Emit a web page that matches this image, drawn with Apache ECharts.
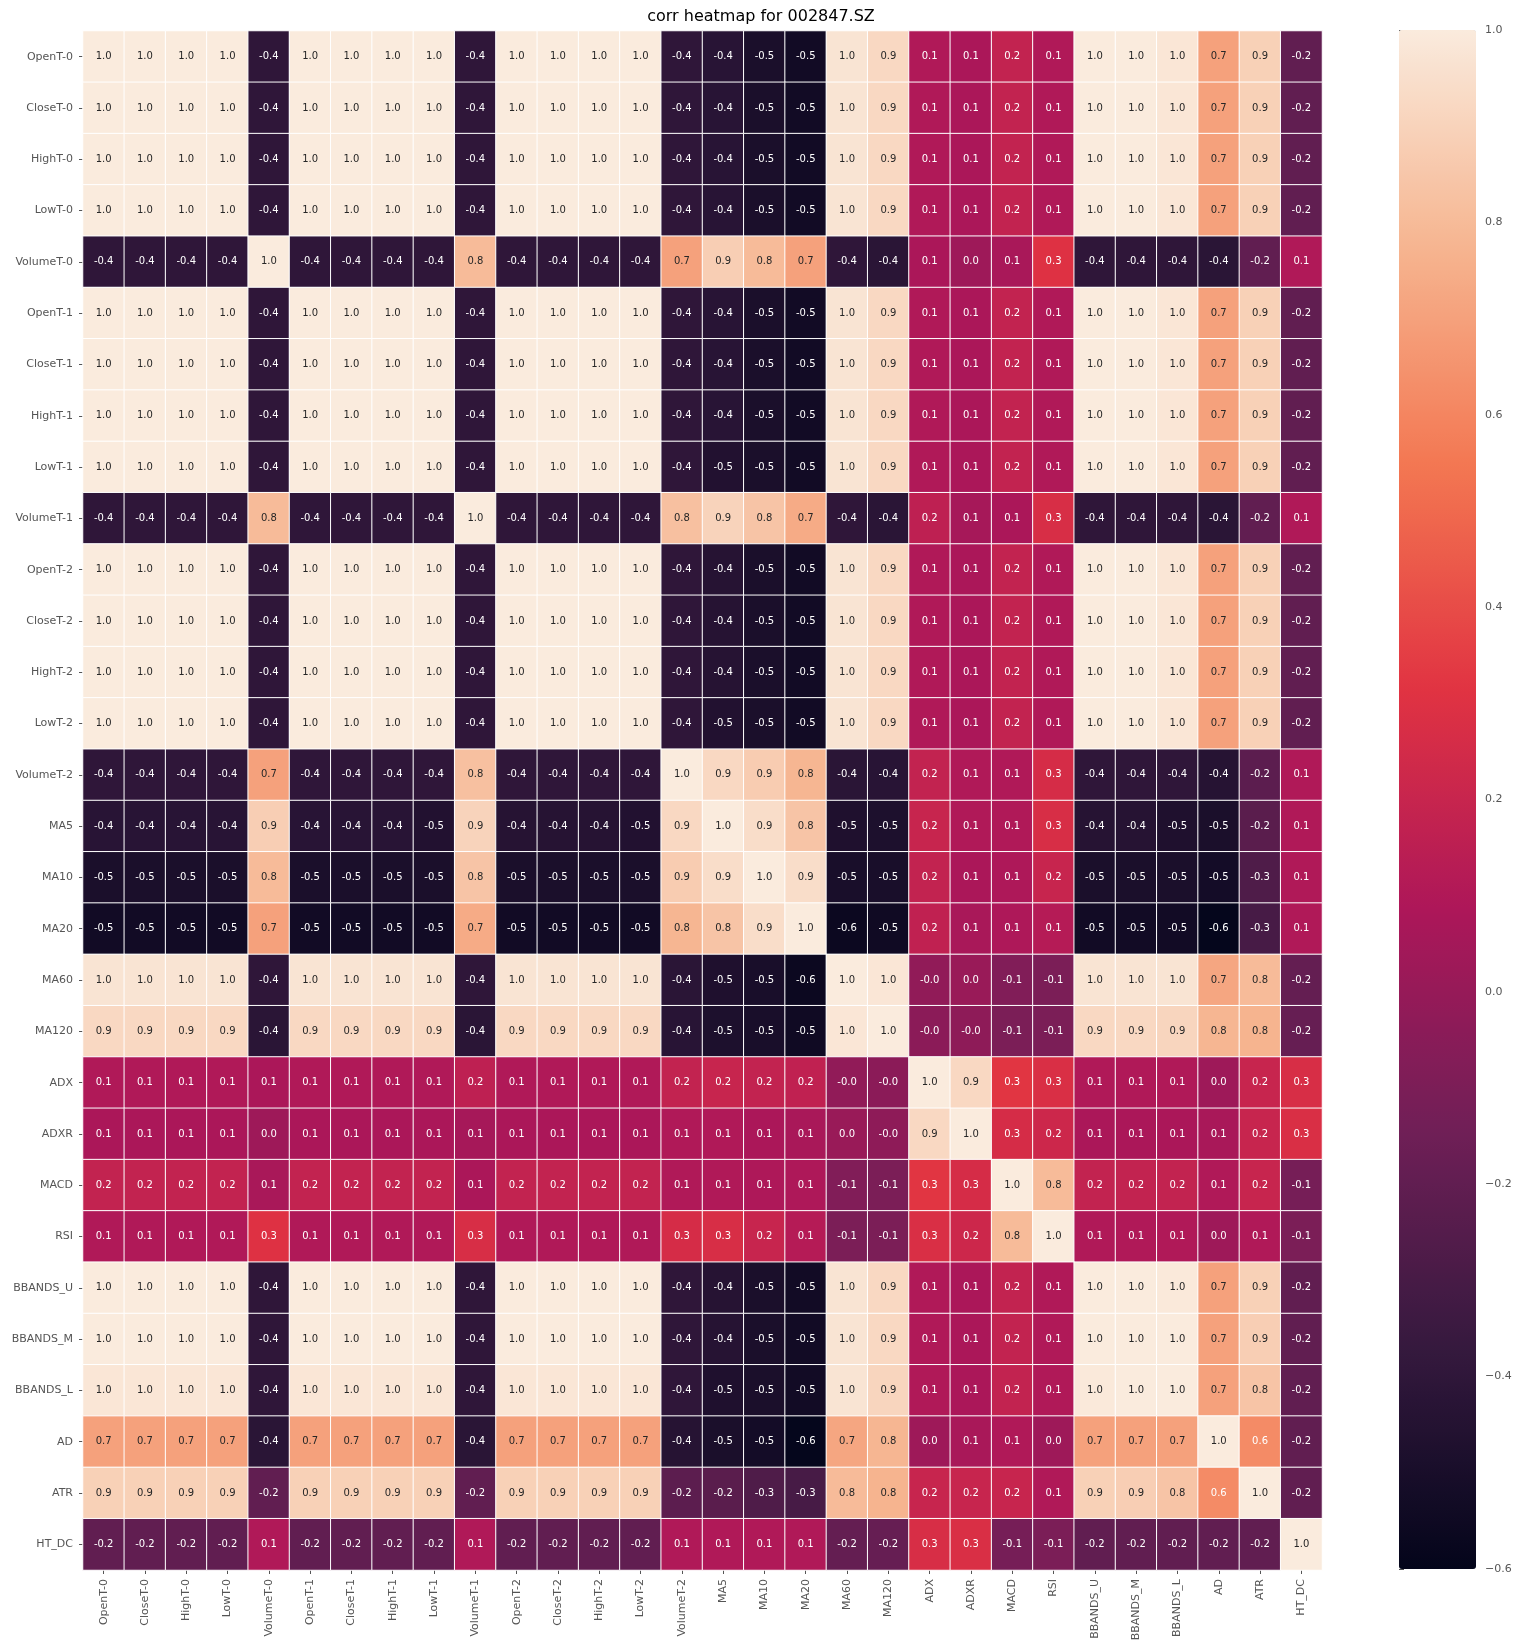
<!DOCTYPE html>
<html>
<head>
<meta charset="utf-8">
<script src="https://cdn.jsdelivr.net/npm/echarts@6/dist/echarts.min.js"></script>
<style>
  html, body { margin: 0; padding: 0; background: #ffffff; }
  #chart { width: 1522px; height: 1652px; }
</style>
</head>
<body>
<div id="chart"></div>
<script>
// ---- categories (rows and columns) ----
const categories = ['OpenT-0','CloseT-0','HighT-0','LowT-0','VolumeT-0','OpenT-1','CloseT-1','HighT-1','LowT-1','VolumeT-1','OpenT-2','CloseT-2','HighT-2','LowT-2','VolumeT-2','MA5','MA10','MA20','MA60','MA120','ADX','ADXR','MACD','RSI','BBANDS_U','BBANDS_M','BBANDS_L','AD','ATR','HT_DC'];

// ---- correlation rows ----
const rowOpenT0   = [1.00,1.00,1.00,1.00,-0.40,1.00,1.00,1.00,1.00,-0.40,1.00,1.00,1.00,1.00,-0.40,-0.43,-0.49,-0.53,0.97,0.92,0.10,0.08,0.18,0.10,1.00,1.00,0.98,0.70,0.89,-0.20];
const rowCloseT0  = [1.00,1.00,1.00,1.00,-0.40,1.00,1.00,1.00,1.00,-0.40,1.00,1.00,1.00,1.00,-0.40,-0.43,-0.49,-0.53,0.97,0.92,0.10,0.08,0.18,0.10,1.00,1.00,0.98,0.70,0.89,-0.20];
const rowHighT0   = [1.00,1.00,1.00,1.00,-0.40,1.00,1.00,1.00,1.00,-0.40,1.00,1.00,1.00,1.00,-0.40,-0.43,-0.49,-0.53,0.97,0.92,0.10,0.08,0.18,0.10,1.00,1.00,0.98,0.70,0.89,-0.20];
const rowLowT0    = [1.00,1.00,1.00,1.00,-0.40,1.00,1.00,1.00,1.00,-0.40,1.00,1.00,1.00,1.00,-0.40,-0.43,-0.49,-0.53,0.97,0.92,0.10,0.08,0.18,0.10,1.00,1.00,0.98,0.70,0.89,-0.20];
const rowVolumeT0 = [-0.40,-0.40,-0.40,-0.40,1.00,-0.40,-0.40,-0.40,-0.40,0.80,-0.40,-0.40,-0.40,-0.40,0.70,0.88,0.80,0.70,-0.40,-0.42,0.08,0.03,0.07,0.30,-0.40,-0.40,-0.40,-0.42,-0.20,0.10];
const rowOpenT1   = [1.00,1.00,1.00,1.00,-0.40,1.00,1.00,1.00,1.00,-0.40,1.00,1.00,1.00,1.00,-0.40,-0.43,-0.49,-0.53,0.97,0.92,0.10,0.08,0.18,0.10,1.00,1.00,0.98,0.70,0.89,-0.20];
const rowCloseT1  = [1.00,1.00,1.00,1.00,-0.40,1.00,1.00,1.00,1.00,-0.40,1.00,1.00,1.00,1.00,-0.40,-0.43,-0.49,-0.53,0.97,0.92,0.10,0.08,0.18,0.10,1.00,1.00,0.98,0.70,0.89,-0.20];
const rowHighT1   = [1.00,1.00,1.00,1.00,-0.40,1.00,1.00,1.00,1.00,-0.40,1.00,1.00,1.00,1.00,-0.40,-0.43,-0.49,-0.53,0.97,0.92,0.10,0.08,0.18,0.10,1.00,1.00,0.98,0.70,0.89,-0.20];
const rowLowT1    = [1.00,1.00,1.00,1.00,-0.40,1.00,1.00,1.00,1.00,-0.40,1.00,1.00,1.00,1.00,-0.40,-0.46,-0.49,-0.53,0.97,0.92,0.10,0.08,0.18,0.10,1.00,1.00,0.98,0.70,0.89,-0.20];
const rowVolumeT1 = [-0.40,-0.40,-0.40,-0.40,0.80,-0.40,-0.40,-0.40,-0.40,1.00,-0.40,-0.40,-0.40,-0.40,0.82,0.90,0.84,0.74,-0.40,-0.42,0.16,0.06,0.08,0.27,-0.40,-0.40,-0.40,-0.42,-0.20,0.10];
const rowOpenT2   = [1.00,1.00,1.00,1.00,-0.40,1.00,1.00,1.00,1.00,-0.40,1.00,1.00,1.00,1.00,-0.40,-0.44,-0.49,-0.53,0.97,0.92,0.10,0.08,0.18,0.10,1.00,1.00,0.98,0.70,0.89,-0.20];
const rowCloseT2  = [1.00,1.00,1.00,1.00,-0.40,1.00,1.00,1.00,1.00,-0.40,1.00,1.00,1.00,1.00,-0.40,-0.44,-0.49,-0.53,0.97,0.92,0.10,0.08,0.18,0.10,1.00,1.00,0.98,0.70,0.89,-0.20];
const rowHighT2   = [1.00,1.00,1.00,1.00,-0.40,1.00,1.00,1.00,1.00,-0.40,1.00,1.00,1.00,1.00,-0.40,-0.44,-0.49,-0.53,0.97,0.92,0.10,0.08,0.18,0.10,1.00,1.00,0.98,0.70,0.89,-0.20];
const rowLowT2    = [1.00,1.00,1.00,1.00,-0.40,1.00,1.00,1.00,1.00,-0.40,1.00,1.00,1.00,1.00,-0.40,-0.46,-0.49,-0.53,0.97,0.92,0.10,0.08,0.18,0.10,1.00,1.00,0.98,0.70,0.89,-0.20];
const rowVolumeT2 = [-0.40,-0.40,-0.40,-0.40,0.70,-0.40,-0.40,-0.40,-0.40,0.82,-0.40,-0.40,-0.40,-0.40,1.00,0.92,0.87,0.78,-0.42,-0.43,0.18,0.10,0.10,0.26,-0.40,-0.40,-0.40,-0.44,-0.22,0.10];
const rowMA5      = [-0.43,-0.43,-0.43,-0.43,0.88,-0.43,-0.43,-0.43,-0.46,0.90,-0.44,-0.44,-0.44,-0.46,0.92,1.00,0.94,0.84,-0.47,-0.48,0.20,0.10,0.10,0.27,-0.44,-0.44,-0.47,-0.49,-0.23,0.10];
const rowMA10     = [-0.49,-0.49,-0.49,-0.49,0.80,-0.49,-0.49,-0.49,-0.49,0.84,-0.49,-0.49,-0.49,-0.49,0.87,0.94,1.00,0.94,-0.50,-0.50,0.18,0.08,0.09,0.20,-0.49,-0.49,-0.49,-0.52,-0.27,0.10];
const rowMA20     = [-0.53,-0.53,-0.53,-0.53,0.70,-0.53,-0.53,-0.53,-0.53,0.74,-0.53,-0.53,-0.53,-0.53,0.78,0.84,0.94,1.00,-0.56,-0.54,0.17,0.07,0.09,0.12,-0.53,-0.53,-0.53,-0.59,-0.30,0.10];
const rowMA60     = [0.97,0.97,0.97,0.97,-0.40,0.97,0.97,0.97,0.97,-0.40,0.97,0.97,0.97,0.97,-0.42,-0.47,-0.50,-0.56,1.00,0.98,-0.02,0.01,-0.08,-0.10,0.97,0.97,0.97,0.72,0.80,-0.19];
const rowMA120    = [0.92,0.92,0.92,0.92,-0.42,0.92,0.92,0.92,0.92,-0.42,0.92,0.92,0.92,0.92,-0.43,-0.48,-0.50,-0.54,0.98,1.00,-0.04,-0.03,-0.10,-0.10,0.92,0.92,0.91,0.78,0.77,-0.18];
const rowADX      = [0.10,0.10,0.10,0.10,0.08,0.10,0.10,0.10,0.10,0.16,0.10,0.10,0.10,0.10,0.18,0.20,0.18,0.17,-0.02,-0.04,1.00,0.92,0.32,0.28,0.10,0.10,0.10,0.03,0.20,0.27];
const rowADXR     = [0.08,0.08,0.08,0.08,0.03,0.08,0.08,0.08,0.08,0.06,0.08,0.08,0.08,0.08,0.10,0.10,0.08,0.07,0.01,-0.03,0.92,1.00,0.26,0.22,0.08,0.08,0.08,0.07,0.20,0.28];
const rowMACD     = [0.18,0.18,0.18,0.18,0.07,0.18,0.18,0.18,0.18,0.08,0.18,0.18,0.18,0.18,0.10,0.10,0.09,0.09,-0.08,-0.10,0.32,0.26,1.00,0.80,0.18,0.18,0.18,0.10,0.20,-0.12];
const rowRSI      = [0.10,0.10,0.10,0.10,0.30,0.10,0.10,0.10,0.10,0.27,0.10,0.10,0.10,0.10,0.26,0.27,0.20,0.12,-0.10,-0.10,0.28,0.22,0.80,1.00,0.10,0.10,0.10,0.03,0.10,-0.10];
const rowBBANDSU  = [1.00,1.00,1.00,1.00,-0.40,1.00,1.00,1.00,1.00,-0.40,1.00,1.00,1.00,1.00,-0.40,-0.44,-0.49,-0.53,0.97,0.92,0.10,0.08,0.18,0.10,1.00,1.00,0.99,0.70,0.89,-0.20];
const rowBBANDSM  = [1.00,1.00,1.00,1.00,-0.40,1.00,1.00,1.00,1.00,-0.40,1.00,1.00,1.00,1.00,-0.40,-0.44,-0.49,-0.53,0.97,0.92,0.10,0.08,0.18,0.10,1.00,1.00,1.00,0.70,0.88,-0.20];
const rowBBANDSL  = [0.98,0.98,0.98,0.98,-0.40,0.98,0.98,0.98,0.98,-0.40,0.98,0.98,0.98,0.98,-0.40,-0.47,-0.49,-0.53,0.97,0.91,0.10,0.08,0.18,0.10,0.99,1.00,1.00,0.70,0.84,-0.20];
const rowAD       = [0.70,0.70,0.70,0.70,-0.42,0.70,0.70,0.70,0.70,-0.42,0.70,0.70,0.70,0.70,-0.44,-0.49,-0.52,-0.59,0.72,0.78,0.03,0.07,0.10,0.03,0.70,0.70,0.70,1.00,0.62,-0.20];
const rowATR      = [0.89,0.89,0.89,0.89,-0.20,0.89,0.89,0.89,0.89,-0.20,0.89,0.89,0.89,0.89,-0.22,-0.23,-0.27,-0.30,0.80,0.77,0.20,0.20,0.20,0.10,0.89,0.88,0.84,0.62,1.00,-0.20];
const rowHTDC     = [-0.20,-0.20,-0.20,-0.20,0.10,-0.20,-0.20,-0.20,-0.20,0.10,-0.20,-0.20,-0.20,-0.20,0.10,0.10,0.10,0.10,-0.19,-0.18,0.27,0.28,-0.12,-0.10,-0.20,-0.20,-0.20,-0.20,-0.20,1.00];

// ---- colour bar range ----
const colorbarMin = -0.6;
const colorbarMax = 1.0;
const colorbarStep = 0.2;

const matrix = [rowOpenT0,rowCloseT0,rowHighT0,rowLowT0,rowVolumeT0,rowOpenT1,rowCloseT1,rowHighT1,rowLowT1,rowVolumeT1,rowOpenT2,rowCloseT2,rowHighT2,rowLowT2,rowVolumeT2,rowMA5,rowMA10,rowMA20,rowMA60,rowMA120,rowADX,rowADXR,rowMACD,rowRSI,rowBBANDSU,rowBBANDSM,rowBBANDSL,rowAD,rowATR,rowHTDC];

// seaborn "rocket" colormap stops
const rocket = ['#03051a','#35193e','#701f57','#ad1759','#e13342','#f37651','#f6b48f','#faebdd'];

const data = [];
matrix.forEach(function (row, i) {
  row.forEach(function (v, j) {
    data.push({ value: [j, i, v], label: { color: v > 0.66 ? '#262626' : '#ffffff' } });
  });
});

const FONT = 'DejaVu Sans';
const chart = echarts.init(document.getElementById('chart'), null, { renderer: 'canvas' });

chart.setOption({
  animation: false,
  backgroundColor: '#ffffff',
  title: {
    text: 'corr heatmap for 002847.SZ',
    left: 'center',
    top: 9,
    padding: 0,
    textStyle: { fontFamily: FONT, fontSize: 16, fontWeight: 'normal', color: '#000000' }
  },
  grid: [
    { left: 83, top: 31, width: 1239, height: 1539 },
    { left: 1399, top: 30, width: 77, height: 1539 }
  ],
  xAxis: [
    {
      type: 'category', gridIndex: 0, data: categories, position: 'bottom',
      axisLine: { show: false },
      axisTick: { show: true, alignWithLabel: true, length: 4, lineStyle: { color: '#555555' } },
      axisLabel: { rotate: 90, interval: 0, margin: 9, fontFamily: FONT, fontSize: 11, color: '#555555' },
      splitLine: { show: false }
    },
    {
      type: 'value', gridIndex: 1, show: false, min: 0, max: 1,
      axisLine: { show: false }, axisTick: { show: false }, axisLabel: { show: false }, splitLine: { show: false }
    }
  ],
  yAxis: [
    {
      type: 'category', gridIndex: 0, data: categories, inverse: true,
      axisLine: { show: false },
      axisTick: { show: true, alignWithLabel: true, length: 4, lineStyle: { color: '#555555' } },
      axisLabel: { interval: 0, margin: 10, fontFamily: FONT, fontSize: 11, color: '#555555' },
      splitLine: { show: false }
    },
    {
      type: 'value', gridIndex: 1, position: 'right',
      min: colorbarMin, max: colorbarMax, interval: colorbarStep,
      axisLine: { show: false },
      axisTick: { show: true, length: 5, lineStyle: { color: '#555555' } },
      axisLabel: {
        margin: 9, fontFamily: FONT, fontSize: 11, color: '#555555',
        formatter: function (v) { return v < 0 ? '\u2212' + Math.abs(v).toFixed(1) : v.toFixed(1); }
      },
      splitLine: { show: false }
    }
  ],
  visualMap: {
    type: 'continuous',
    seriesIndex: 0,
    dimension: 2,
    min: colorbarMin,
    max: colorbarMax,
    orient: 'vertical',
    left: 1399,
    top: 30,
    padding: 0,
    itemWidth: 77,
    itemHeight: 1539,
    calculable: false,
    hoverLink: false,
    indicatorSize: 0,
    indicatorStyle: { opacity: 0 },
    textStyle: { color: 'rgba(0,0,0,0)', fontSize: 1 },
    inRange: { color: rocket }
  },
  series: [{
    type: 'heatmap',
    xAxisIndex: 0,
    yAxisIndex: 0,
    data: data,
    itemStyle: { borderColor: '#ffffff', borderWidth: 1 },
    label: {
      show: true,
      fontFamily: FONT,
      fontSize: 10,
      formatter: function (p) { return p.value[2].toFixed(1); }
    },
    emphasis: { disabled: true }
  }]
});
</script>
</body>
</html>
